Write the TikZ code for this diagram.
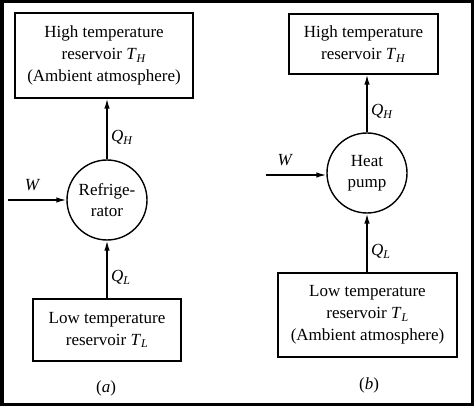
\documentclass[tikz,border=0pt]{standalone}
\usepackage{fontspec}
\setmainfont{Liberation Serif}
\usetikzlibrary{arrows.meta,positioning}
\newcommand{\symsub}[2]{\textit{#1}\textsubscript{\textit{#2}}}

\begin{document}
\begin{tikzpicture}[x=1pt, y=-1pt,
  res/.style={draw, rectangle, line width=1.4pt, align=center, inner sep=0pt,
              font=\fontsize{17}{22}\selectfont},
  dev/.style={draw, circle, line width=1.4pt, minimum size=80pt, inner sep=0pt,
              align=center, font=\fontsize{17}{21}\selectfont},
  flow/.style={-{Latex[length=10pt,width=5.5pt]}, line width=1.4pt},
  lab/.style={font=\fontsize{17}{20}\selectfont}
]
\useasboundingbox (0,0) rectangle (474,406);
\draw[line width=3.5pt] (1.75,1.75) rectangle (472.25,404.25);

% (a) refrigerator
\node[res, minimum width=178pt, minimum height=85pt] (HA) at (104,55.5)
  {High temperature\\reservoir \symsub{T}{H}\\(Ambient atmosphere)};
\node[dev] (RA) at (107,200) {Refrige-\\rator};
\node[res, minimum width=148pt, minimum height=62pt] (LA) at (107,330)
  {Low temperature\\reservoir \symsub{T}{L}};
\coordinate (WA) at (8,200);
\node[lab] (CA) at (106,388) {(\textit{a})};

\draw[flow] (RA.north) -- node[lab, right, pos=0.36] {\symsub{Q}{H}} (RA.north |- HA.south);
\draw[flow] (RA.south |- LA.north) -- node[lab, right, pos=0.36] {\symsub{Q}{L}} (RA.south);
\draw[flow] (WA) -- node[lab, above=5pt, pos=0.42] {\textit{W}} (RA.west);

% (b) heat pump
\node[res, minimum width=149pt, minimum height=60pt] (HB) at (363.5,44)
  {High temperature\\reservoir \symsub{T}{H}};
\node[dev] (PB) at (367,173) {Heat\\pump};
\node[res, minimum width=179pt, minimum height=84pt] (LB) at (367.5,315)
  {Low temperature\\reservoir \symsub{T}{L}\\(Ambient atmosphere)};
\coordinate (WB) at (266,175);
\node[lab] (CB) at (369,385) {(\textit{b})};

\draw[flow] (PB.north) -- node[lab, right, pos=0.36] {\symsub{Q}{H}} (PB.north |- HB.south);
\draw[flow] (PB.south |- LB.north) -- node[lab, right, pos=0.36] {\symsub{Q}{L}} (PB.south);
\draw[flow] (WB) -- node[lab, above=5pt, pos=0.32] {\textit{W}} (WB -| PB.west);
\end{tikzpicture}
\end{document}
